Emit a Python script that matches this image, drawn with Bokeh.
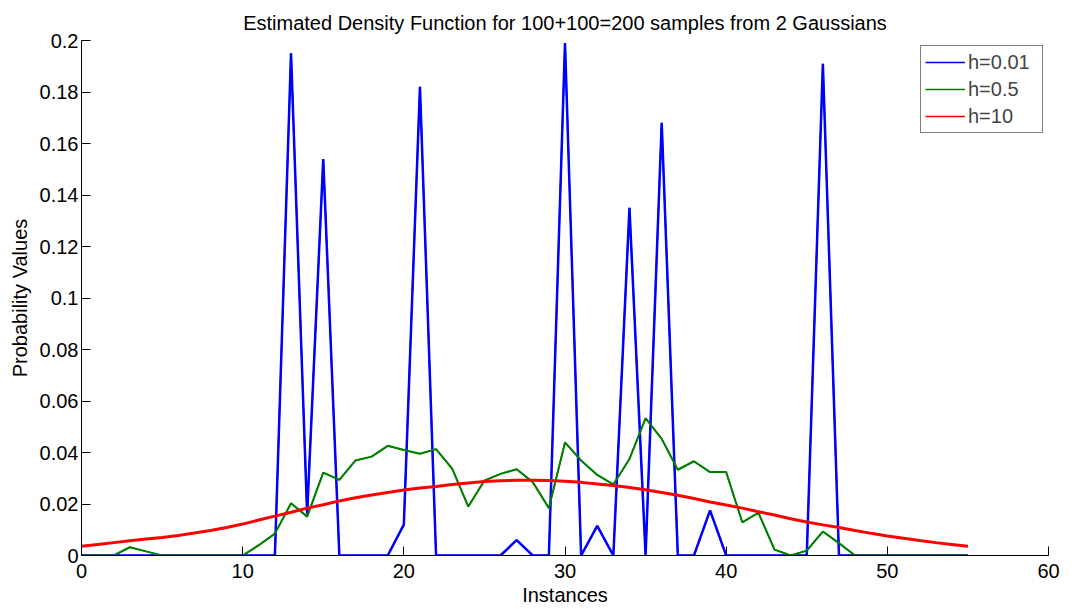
from bokeh.plotting import figure
from bokeh.models import FixedTicker, Legend, LegendItem, Range1d
from bokeh.embed import file_html
from bokeh.resources import INLINE

x_vals = list(range(56))

h001 = [0, 0, 0, 0, 0, 0, 0, 0, 0, 0,
        0, 0, 0, 0.195, 0.016, 0.154, 0, 0, 0, 0,
        0.012, 0.182, 0, 0, 0, 0, 0, 0.006, 0, 0,
        0.199, 0, 0.0115, 0, 0.135, 0, 0.168, 0, 0, 0.0175,
        0, 0, 0, 0, 0, 0, 0.191, 0, 0, 0,
        0, 0, 0, 0, 0, 0]

h05 = [0, 0, 0, 0.0032, 0.0016, 0, 0, 0, 0, 0,
       0, 0.004, 0.0085, 0.0203, 0.0151, 0.0322, 0.0294, 0.0369, 0.0384, 0.0426,
       0.041, 0.0395, 0.0413, 0.0337, 0.019, 0.0291, 0.0317, 0.0335, 0.0285, 0.0184,
       0.0439, 0.0369, 0.0313, 0.0276, 0.0375, 0.0533, 0.0453, 0.0333, 0.0366, 0.0324,
       0.0324, 0.0129, 0.0166, 0.0023, 0, 0.0019, 0.0093, 0.0048, 0, 0,
       0, 0, 0, 0, 0, 0]

h10 = [0.0036, 0.0043, 0.0050, 0.0057, 0.0064, 0.0070, 0.0078, 0.0087, 0.0097, 0.0109,
       0.0122, 0.0138, 0.0153, 0.0168, 0.0184, 0.0197, 0.0212, 0.0224, 0.0235, 0.0245,
       0.0254, 0.0262, 0.0268, 0.0276, 0.0282, 0.0287, 0.0290, 0.0292, 0.0292, 0.0291,
       0.0288, 0.0284, 0.0278, 0.0272, 0.0264, 0.0255, 0.0245, 0.0234, 0.0221, 0.0208,
       0.0196, 0.0184, 0.0170, 0.0157, 0.0143, 0.0130, 0.0119, 0.0109, 0.0097, 0.0086,
       0.0076, 0.0067, 0.0058, 0.0050, 0.0043, 0.0036]

series = [h001, h05, h10]
series_labels = ["h=0.01", "h=0.5", "h=10"]
series_colors = ["#0000FF", "#008000", "#FF0000"]
series_widths = [2.5, 2, 3]

x_ticks = [0, 10, 20, 30, 40, 50, 60]
y_ticks = [0, 0.02, 0.04, 0.06, 0.08, 0.1, 0.12, 0.14, 0.16, 0.18, 0.2]
y_labels = ["0", "0.02", "0.04", "0.06", "0.08", "0.1", "0.12", "0.14", "0.16", "0.18", "0.2"]
title_text = "Estimated Density Function for 100+100=200 samples from 2 Gaussians"

FONT = "Liberation Sans"

p = figure(width=1064, height=608, output_backend="svg", toolbar_location=None,
           x_range=Range1d(0, 60), y_range=Range1d(0, 0.2),
           min_border_left=81, min_border_right=16, min_border_top=40, min_border_bottom=50,
           title=title_text)
p.outline_line_color = None
p.xgrid.visible = False
p.ygrid.visible = False
p.title.align = "center"
p.title.text_font = FONT
p.title.text_font_size = "20px"
p.title.text_font_style = "normal"
p.title.text_color = "black"
p.title.standoff = 14

# thin copies drawn first (hidden under the thick lines), used for the legend
proxies = [p.line(x_vals, s, line_color=c, line_width=1.5)
           for s, c in zip(series, series_colors)]
for s, c, w in zip(series, series_colors, series_widths):
    p.line(x_vals, s, line_color=c, line_width=w)

for ax in (p.xaxis[0], p.yaxis[0]):
    ax.major_tick_in = 9
    ax.major_tick_out = 0
    ax.minor_tick_in = 0
    ax.minor_tick_out = 0
    ax.axis_line_color = "black"
    ax.major_tick_line_color = "black"
    ax.major_label_text_font = FONT
    ax.major_label_text_font_size = "20px"
    ax.major_label_text_color = "black"
    ax.axis_label_text_font = FONT
    ax.axis_label_text_font_size = "20px"
    ax.axis_label_text_font_style = "normal"
    ax.axis_label_text_color = "black"

p.xaxis[0].ticker = FixedTicker(ticks=x_ticks)
p.yaxis[0].ticker = FixedTicker(ticks=y_ticks)
p.yaxis[0].major_label_overrides = {t: l for t, l in zip(y_ticks, y_labels)}
p.xaxis[0].axis_label = "Instances"
p.yaxis[0].axis_label = "Probability Values"
p.xaxis[0].major_label_standoff = 8
p.xaxis[0].axis_label_standoff = 3
p.yaxis[0].major_label_standoff = 3
p.yaxis[0].axis_label_standoff = 6

legend = Legend(items=[LegendItem(label=l, renderers=[r]) for l, r in zip(series_labels, proxies)],
                location="top_right")
legend.label_text_font = FONT
legend.label_text_font_size = "20px"
legend.glyph_width = 40
legend.glyph_height = 24
legend.label_height = 24
legend.label_width = 70
legend.label_standoff = 3
legend.spacing = 3
legend.padding = 4
legend.margin = 5
legend.border_line_color = "black"
legend.border_line_width = 1
legend.background_fill_color = "white"
legend.background_fill_alpha = 1
p.add_layout(legend)

open("out.html", "w").write(file_html(p, INLINE))
